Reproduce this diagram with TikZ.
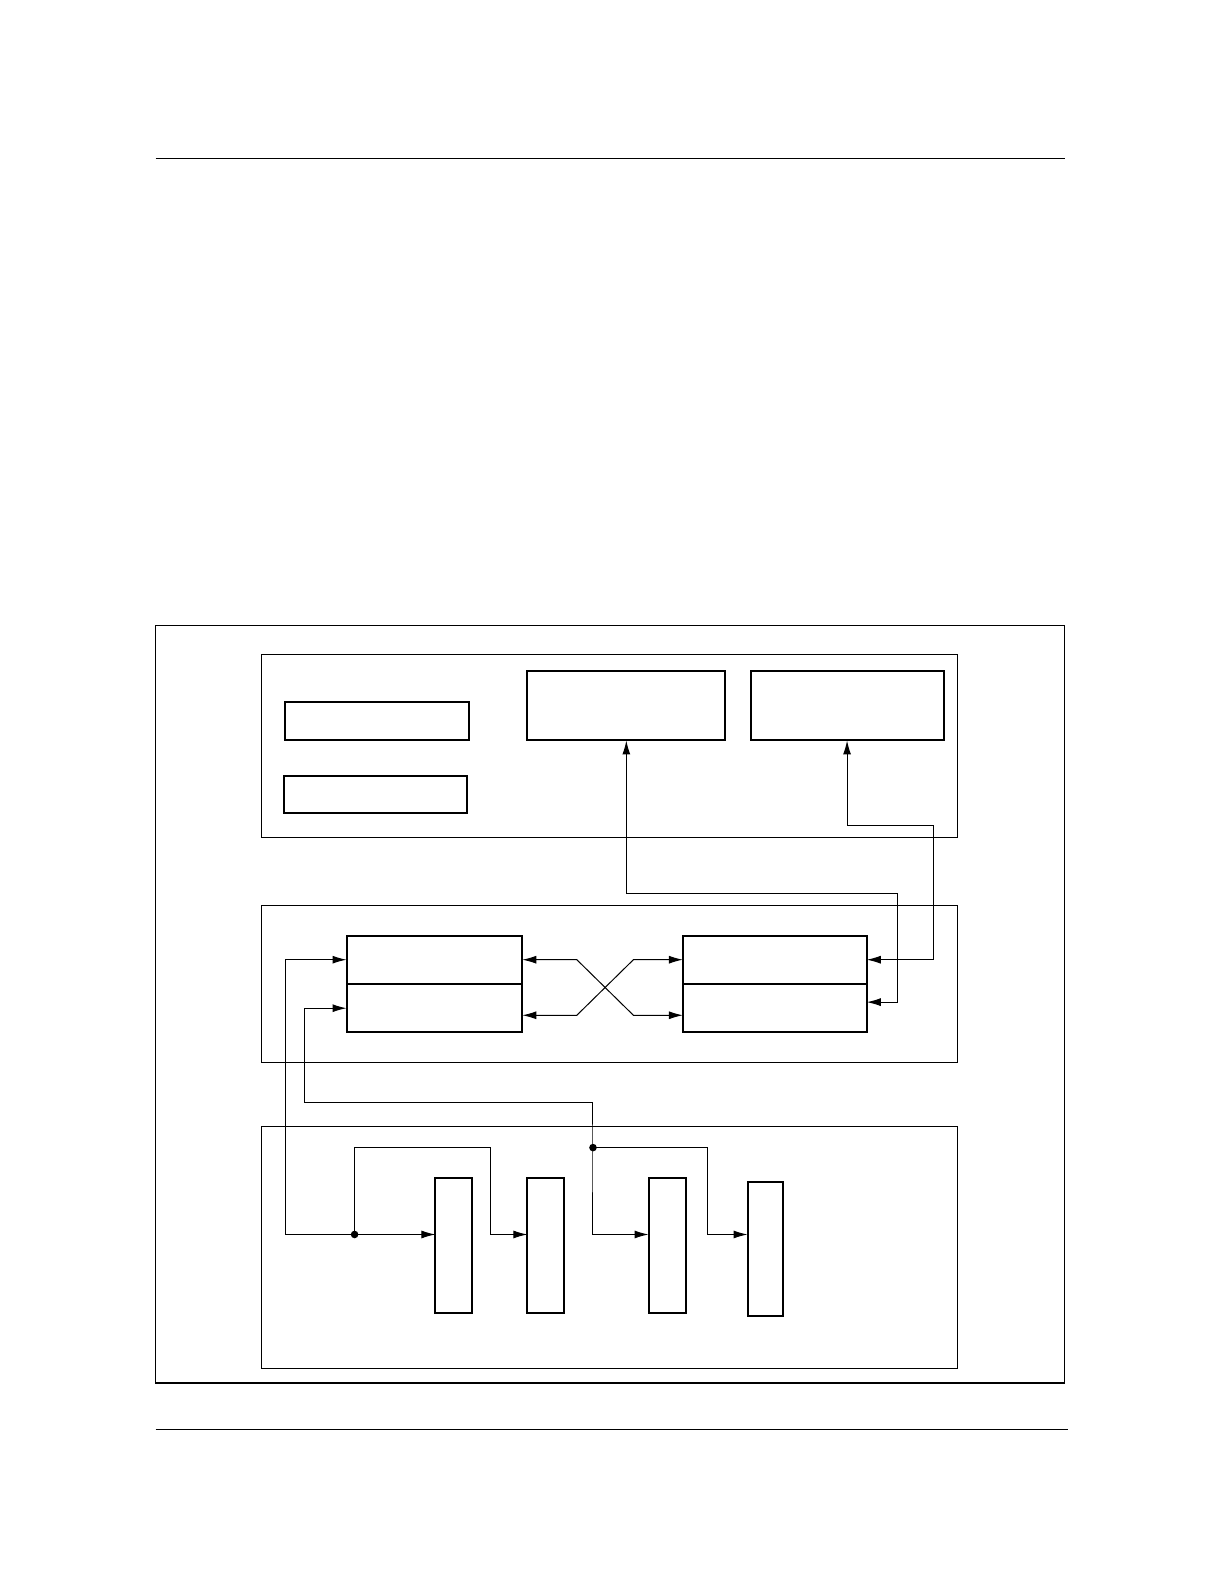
\documentclass[tikz,border=0pt]{standalone}
\usetikzlibrary{arrows.meta,fit}
\tikzset{
  blk/.style={draw,line width=1pt,inner sep=0pt,outer sep=0pt},
  panel/.style={draw,line width=.6pt,inner sep=0pt,outer sep=0pt},
  sig/.style={line width=.5pt,-{Latex[length=7pt,width=4pt]}},
  dsig/.style={line width=.5pt,{Latex[length=7pt,width=4pt]}-{Latex[length=7pt,width=4pt]}},
  jdot/.style={circle,fill,inner sep=0pt,minimum size=3.8pt}
}
\begin{document}
\begin{tikzpicture}[x=.505pt,y=-.505pt]
\useasboundingbox (0,0) rectangle (1212,1568);
% page rules and frame
\draw[line width=.6pt] (154,157)--(1054,157);
\draw[line width=.6pt] (154,1415)--(1057,1415);
\node[panel,fit={(154,619)(1054,1369)}] (frame) {};
% panels
\node[panel,fit={(259,648)(948,829)}] (ptop) {};
\node[panel,fit={(259,896)(948,1052)}] (pmid) {};
\node[panel,fit={(259,1115)(948,1355)}] (pbot) {};
% top panel boxes
\node[blk,fit={(282,695)(464,733)}] (a) {};
\node[blk,fit={(281,768)(462,805)}] (b) {};
\node[blk,fit={(522,664)(718,733)}] (c) {};
\node[blk,fit={(743,664)(934,733)}] (d) {};
% middle panel boxes
\node[blk,fit={(343,927)(517,974)}] (lu) {};
\node[blk,fit={(343,974)(517,1022)}] (ll) {};
\node[blk,fit={(676,927)(858,974)}] (ru) {};
\node[blk,fit={(676,974)(858,1022)}] (rl) {};
% bottom panel boxes
\node[blk,fit={(431,1166)(467,1300)}] (t1) {};
\node[blk,fit={(522,1166)(558,1300)}] (t2) {};
\node[blk,fit={(642,1166)(679,1300)}] (t3) {};
\node[blk,fit={(740,1170)(775,1303)}] (t4) {};
% bends
\coordinate (k1) at (571,950);
\coordinate (k2) at (627,950);
\coordinate (k3) at (571,1005);
\coordinate (k4) at (627,1005);
\coordinate (c1) at (283,1222);
\coordinate (c2) at (301,1091);
\coordinate (c3) at (486,1136);
\coordinate (c4) at (700,1222);
\coordinate (c5) at (888,884);
\coordinate (c6) at (888,992);
\coordinate (c7) at (924,817);
\coordinate (c8) at (924,950);
\node[jdot] (j1) at (351,1222) {};
\node[jdot] (j2) at (587,1136) {};
% connectors
\draw[dsig] (c.south) |- (c5) -- (c6) -- (rl.east |- c6);
\draw[dsig] (d.south) |- (c7) -- (c8) -- (ru.east |- c8);
\draw[dsig] (lu.east |- k1) -- (k1) -- (k4) -- (rl.west |- k4);
\draw[dsig] (ll.east |- k3) -- (k3) -- (k2) -- (ru.west |- k2);
\draw[dsig] (lu.west |- k1) -| (c1) -- (t1.west |- c1);
\draw[sig] (j1.center) |- (c3) |- (t2.west |- c1);
\draw[dsig] (ll.west) -| (c2) -| (j2.center) |- (t3.west |- c1);
\draw[sig] (j2.center) -| (c4) -- (t4.west |- c4);
\end{tikzpicture}
\end{document}
